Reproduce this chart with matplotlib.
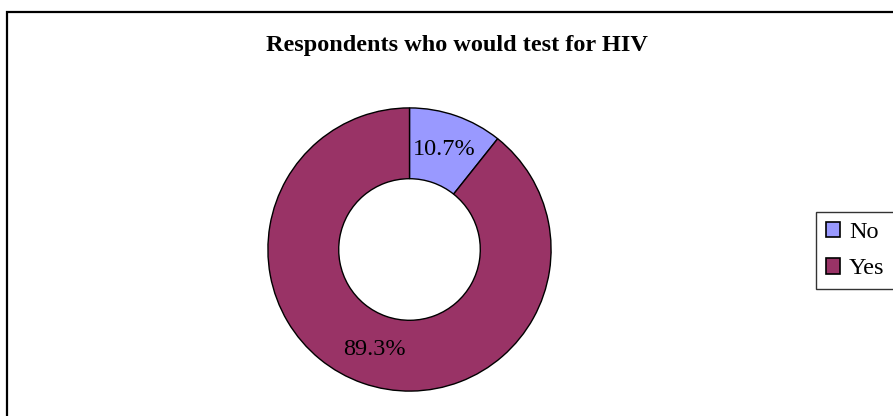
import matplotlib.pyplot as plt
from matplotlib.patches import Rectangle, Patch

labels = ["No", "Yes"]
shares = [10.7, 89.3]
colors = ["#9999FF", "#993366"]
title = "Respondents who would test for HIV"

W, H = 893, 416
fig = plt.figure(figsize=(W / 100, H / 100), dpi=100)
plt.rcParams["font.family"] = ["Liberation Serif", "DejaVu Serif"]

# chart frame (right and bottom edges run off the canvas)
fig.add_artist(Rectangle((7 / W, -0.1), 1.2, 1 - 12 / H + 0.1,
                         transform=fig.transFigure, fill=False,
                         edgecolor="black", linewidth=1.6))

fig.text(457 / W, 1 - 46 / H, title, ha="center", va="center",
         fontsize=17.5, fontweight="bold")

# donut, centre at (409.5, 249.5) px, outer radius 143 px
cx, cy, r = 409.5, 249.5, 143
ax = fig.add_axes([(cx - r) / W, (H - cy - r) / H, 2 * r / W, 2 * r / H])
wedges, texts, autotexts = ax.pie(
    shares, colors=colors, startangle=90, counterclock=False,
    radius=1, autopct="%.1f%%", pctdistance=0.75,
    wedgeprops=dict(width=0.5, edgecolor="black", linewidth=1.0),
    textprops=dict(fontsize=17.5, color="black"),
)
ax.set_xlim(-1.01, 1.01)
ax.set_ylim(-1.01, 1.01)
ax.axis("off")

handles = [Patch(facecolor=c, edgecolor="black", linewidth=1.2) for c in colors]
leg = fig.legend(handles, labels, loc="upper left",
                 bbox_to_anchor=(816 / W, 1 - 212 / H), fontsize=17.5,
                 frameon=True, fancybox=False, handlelength=0.6,
                 handleheight=0.6, handletextpad=0.35, borderpad=0.4,
                 labelspacing=0.62, borderaxespad=0)
leg.get_frame().set_edgecolor("black")
leg.get_frame().set_linewidth(1.0)

fig.savefig("out.png", dpi=100, facecolor="white")
